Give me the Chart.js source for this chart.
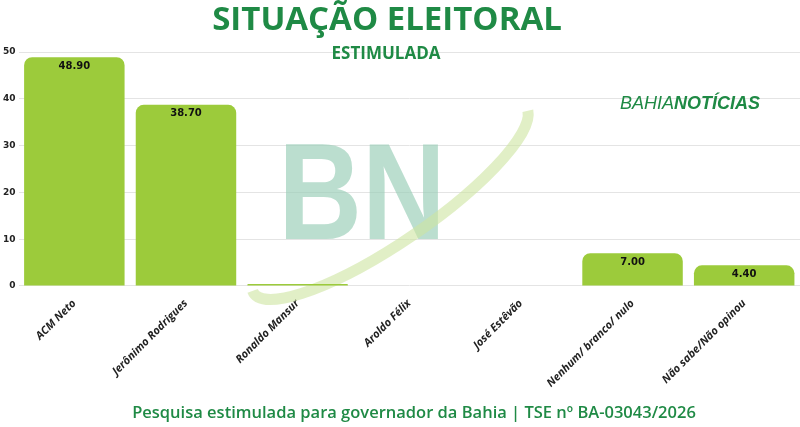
<!DOCTYPE html>
<html>
<head>
<meta charset="utf-8">
<script src="https://cdn.jsdelivr.net/npm/chart.js@4"></script>
<style>
    html, body { margin: 0; padding: 0; background: #fff; }
    #wrap { width: 800px; height: 427px; position: relative; }
</style>
</head>
<body>
<div id="wrap"><canvas id="chart" width="800" height="427"></canvas></div>
<script>
// data
const candidates = [
    "ACM Neto",
    "Jerônimo Rodrigues",
    "Ronaldo Mansur",
    "Aroldo Félix",
    "José Estêvão",
    "Nenhum/ branco/ nulo",
    "Não sabe/Não opinou",
];
const percentages = [48.9, 38.7, 0.4, 0, 0, 7.0, 4.4];
const yTicks = [0, 10, 20, 30, 40, 50];

const titleText = "SITUAÇÃO ELEITORAL";
const subtitleText = "ESTIMULADA";
const footerText = "Pesquisa estimulada para governador da Bahia | TSE nº BA-03043/2026";

const GREEN = "#1f8a45";
const BAR = "#9ccb3b";

// titles, watermark and footer
const decorations = {
    id: "decorations",
    beforeDatasetsDraw(chart) {
        const ctx = chart.ctx;
        ctx.save();
        // BN watermark
        ctx.fillStyle = "rgba(150, 205, 182, 0.65)";
        ctx.font = "bold 138px 'Liberation Sans', Arial, sans-serif";
        ctx.textAlign = "center";
        ctx.textBaseline = "alphabetic";
        ctx.translate(362, 239);
        ctx.scale(0.84, 1);
        ctx.fillText("BN", 0, 0);
        ctx.setTransform(1, 0, 0, 1, 0, 0);
        // swoosh
        ctx.strokeStyle = "rgba(205, 228, 160, 0.6)";
        ctx.lineWidth = 11;
        ctx.beginPath();
        ctx.ellipse(390, 200, 165, 42, -0.6, 0.1, Math.PI * 1.02);
        ctx.stroke();
        ctx.restore();
    },
    afterDraw(chart) {
        const ctx = chart.ctx;
        ctx.save();
        ctx.textAlign = "center";
        ctx.textBaseline = "alphabetic";
        ctx.fillStyle = GREEN;
        ctx.font = "bold 33px 'Open Sans', sans-serif";
        ctx.fillText(titleText, 387, 30);
        ctx.textBaseline = "middle";
        ctx.font = "bold 17px 'Open Sans', sans-serif";
        ctx.fillText(subtitleText, 386, 54);
        ctx.font = "600 16.5px 'Open Sans', sans-serif";
        ctx.fillText(footerText, 414, 413);
        // logo text
        ctx.textAlign = "left";
        ctx.font = "italic 18px 'Liberation Sans', sans-serif";
        ctx.fillText("BAHIA", 620, 104);
        const w = ctx.measureText("BAHIA").width;
        ctx.font = "italic bold 18px 'Liberation Sans', sans-serif";
        ctx.fillText("NOTÍCIAS", 620 + w, 104);
        ctx.restore();
    },
};

// value on top of each bar
const barLabels = {
    id: "barLabels",
    afterDatasetsDraw(chart) {
        const ctx = chart.ctx;
        const meta = chart.getDatasetMeta(0);
        ctx.save();
        ctx.fillStyle = "#111";
        ctx.font = "bold 10px 'DejaVu Sans', sans-serif";
        ctx.textAlign = "center";
        ctx.textBaseline = "top";
        meta.data.forEach((bar, i) => {
            const v = percentages[i];
            if (v < 1) return;
            ctx.fillText(v.toFixed(2), bar.x, bar.y + 4);
        });
        ctx.restore();
    },
};

new Chart(document.getElementById("chart"), {
    type: "bar",
    data: {
        labels: candidates,
        datasets: [
            {
                data: percentages,
                backgroundColor: BAR,
                borderRadius: { topLeft: 8, topRight: 8, bottomLeft: 0, bottomRight: 0 },
                borderSkipped: "bottom",
                barPercentage: 0.9,
                categoryPercentage: 1,
            },
        ],
    },
    options: {
        responsive: false,
        animation: false,
        devicePixelRatio: 1,
        layout: { padding: { top: 52, right: 0, bottom: 34, left: 0 } },
        plugins: {
            legend: { display: false },
            tooltip: { enabled: false },
        },
        scales: {
            x: {
                grid: { display: false },
                border: { display: false },
                ticks: {
                    color: "#222",
                    font: { family: "'Open Sans', sans-serif", weight: "bold", style: "italic", size: 11 },
                    minRotation: 45,
                    maxRotation: 45,
                    autoSkip: false,
                },
            },
            y: {
                min: 0,
                max: 50,
                afterBuildTicks: (axis) => {
                    axis.ticks = yTicks.map((v) => ({ value: v }));
                },
                grid: { color: "#e4e4e4", drawTicks: false },
                border: { display: false },
                ticks: {
                    color: "#222",
                    padding: 3,
                    font: { family: "'DejaVu Sans', sans-serif", weight: "bold", size: 9 },
                },
            },
        },
    },
    plugins: [decorations, barLabels],
});
</script>
</body>
</html>
